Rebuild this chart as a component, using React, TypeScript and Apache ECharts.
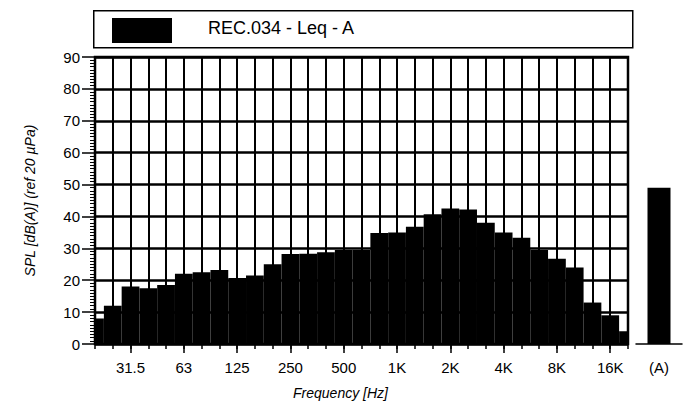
import React, { useEffect, useRef } from 'react';
import * as echarts from 'echarts';

// 1/3-octave band centre frequencies (category labels)
const bands = ['20', '25', '31.5', '40', '50', '63', '80', '100', '125', '160', '200', '250', '315', '400', '500', '630', '800', '1K', '1.25K', '1.6K', '2K', '2.5K', '3.15K', '4K', '5K', '6.3K', '8K', '10K', '12.5K', '16K', '20K'];
// Leq levels dB(A) per band
const levels = [8, 12, 18, 17.5, 18.5, 22, 22.5, 23.2, 20.7, 21.5, 25, 28.2, 28.3, 28.8, 29.5, 29.5, 34.8, 35, 36.8, 40.7, 42.5, 42.2, 38, 35, 33.3, 29.5, 26.7, 24, 13, 9, 4];
// bands whose labels are shown (octave centres)
const labeledBands = ['31.5', '63', '125', '250', '500', '1K', '2K', '4K', '8K', '16K'];
// overall A-weighted level
const totalLabel = ['(A)'];
const totalLevel = [49];
const yMin = 0;
const yMax = 90;
const yInterval = 10;
const seriesName = 'REC.034 - Leq - A';
const yName = 'SPL [dB(A)] (ref 20 µPa)';
const xName = 'Frequency [Hz]';

const FONT = 'Liberation Sans, Arial, Helvetica, sans-serif';

export default function App() {
  const ref = useRef<HTMLDivElement>(null);
  useEffect(() => {
    if (!ref.current) return;
    const chart = echarts.init(ref.current, null, { renderer: 'svg' });
    const gridTop = 57;
    const gridH = 287;
    const option: any = {
      animation: false,
      backgroundColor: '#fff',
      textStyle: { fontFamily: FONT, color: '#000' },
      grid: [
        { left: 95, top: gridTop, width: 533, height: gridH, show: true, borderColor: '#000', borderWidth: 2.5, backgroundColor: 'transparent' },
        { left: 636, top: gridTop, width: 46, height: gridH, show: false },
      ],
      xAxis: [
        {
          type: 'category', gridIndex: 0, data: bands, boundaryGap: false, position: 'bottom',
          axisLine: { show: true, lineStyle: { color: '#000', width: 2 } },
          axisTick: { show: true, interval: 0, length: 5, lineStyle: { color: '#000', width: 1.5 } },
          axisLabel: {
            interval: (i: number) => labeledBands.includes(bands[i]),
            margin: 16, color: '#000', fontSize: 15, fontFamily: FONT,
          },
          splitLine: { show: true, interval: 0, lineStyle: { color: '#000', width: 2 } },
          name: xName, nameLocation: 'middle', nameGap: 42,
          nameTextStyle: { fontStyle: 'italic', fontSize: 14, color: '#000', fontFamily: FONT, padding: [0, 42, 0, 0] },
        },
        {
          type: 'category', gridIndex: 0, data: bands, boundaryGap: false, position: 'bottom',
          axisLine: { show: false },
          axisTick: { show: true, interval: (i: number) => labeledBands.includes(bands[i]), length: 9, lineStyle: { color: '#000', width: 1.5 } },
          axisLabel: { show: false },
          splitLine: { show: false },
        },
        {
          type: 'category', gridIndex: 1, data: totalLabel, boundaryGap: true,
          axisLine: { show: true, lineStyle: { color: '#000', width: 1.5 } },
          axisTick: { show: false },
          axisLabel: { margin: 16, color: '#000', fontSize: 15, fontFamily: FONT },
          splitLine: { show: false },
        },
      ],
      yAxis: [
        {
          type: 'value', gridIndex: 0, min: yMin, max: yMax, interval: yInterval,
          axisLine: { show: true, lineStyle: { color: '#000', width: 2 } },
          axisTick: { show: true, length: 13, lineStyle: { color: '#000', width: 1.5 } },
          minorTick: { show: true, splitNumber: 10, length: 5, lineStyle: { color: '#000', width: 1 } },
          axisLabel: { margin: 15, color: '#000', fontSize: 15, fontFamily: FONT },
          splitLine: { show: true, lineStyle: { color: '#000', width: 2.5 } },
          name: yName, nameLocation: 'middle', nameGap: 58, nameRotate: 90,
          nameTextStyle: { fontStyle: 'italic', fontSize: 14, color: '#000', fontFamily: FONT },
        },
        { type: 'value', gridIndex: 1, min: yMin, max: yMax, show: false },
      ],
      series: [
        {
          name: seriesName,
          type: 'custom',
          xAxisIndex: 0,
          yAxisIndex: 0,
          data: levels.map((v, i) => [i, v]),
          renderItem: (params: any, api: any) => {
            const i = api.value(0);
            const v = api.value(1);
            const base = api.coord([i, 0]);
            const top = api.coord([i, v]);
            const step = Math.abs(api.coord([1, 0])[0] - api.coord([0, 0])[0]);
            const cs = params.coordSys;
            const shape = echarts.graphic.clipRectByRect(
              { x: base[0] - step / 2, y: top[1], width: step, height: base[1] - top[1] },
              { x: cs.x, y: cs.y, width: cs.width, height: cs.height }
            );
            if (!shape) return null;
            return { type: 'rect', shape, style: { fill: '#000' } };
          },
          z: 3,
        },
        {
          name: 'total',
          type: 'bar',
          xAxisIndex: 2,
          yAxisIndex: 1,
          barWidth: 23,
          itemStyle: { color: '#000' },
          data: totalLevel,
        },
      ],
      graphic: [
        { type: 'rect', left: 93, top: 10, shape: { width: 539, height: 37 }, style: { fill: '#fff', stroke: '#000', lineWidth: 1.5 } },
        { type: 'rect', left: 112, top: 18, shape: { width: 60, height: 25 }, style: { fill: '#000' } },
        { type: 'text', left: 208, top: 19, style: { text: seriesName, fontSize: 18, fontFamily: FONT, fill: '#000' } },
      ],
    };
    chart.setOption(option);
    return () => chart.dispose();
  }, []);
  return <div ref={ref} style={{ position: 'absolute', left: 0, top: 0, width: 684, height: 405 }} />;
}
